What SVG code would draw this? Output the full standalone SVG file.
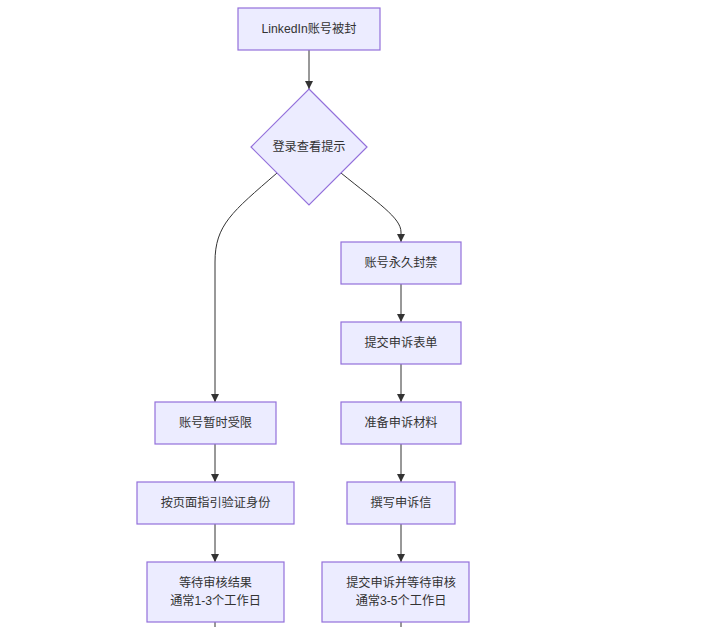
<svg xmlns="http://www.w3.org/2000/svg" width="724" height="627" viewBox="0 0 724 627">
<defs>
<style>
.n{fill:#ECECFF;stroke:#9370DB;stroke-width:1.2}
.t{font-family:"Liberation Sans","Noto Sans CJK SC",sans-serif;font-size:12.2px;fill:#333;text-anchor:middle;dominant-baseline:central}
.e{fill:none;stroke:#333;stroke-width:1}
</style>
<marker id="a" viewBox="0 0 10 10" refX="10" refY="5" markerWidth="8" markerHeight="8" markerUnits="userSpaceOnUse" orient="auto">
<path d="M0,0 L10,5 L0,10 z" fill="#333"/>
</marker>
</defs>
<rect width="724" height="627" fill="#fff"/>
<g id="edges">
<path class="e" d="M309,50 L309,89" marker-end="url(#a)"/>
<path class="e" d="M277,173 C232,212 215,225 215,262 L215,402" marker-end="url(#a)"/>
<path class="e" d="M341,173 C378,203 401,218 401,232 L401,242" marker-end="url(#a)"/>
<path class="e" d="M401,284 L401,322" marker-end="url(#a)"/>
<path class="e" d="M401,364 L401,402" marker-end="url(#a)"/>
<path class="e" d="M401,444 L401,482" marker-end="url(#a)"/>
<path class="e" d="M401,524 L401,562" marker-end="url(#a)"/>
<path class="e" d="M401,622 L401,627"/>
<path class="e" d="M215,444 L215,482" marker-end="url(#a)"/>
<path class="e" d="M215,524 L215,562" marker-end="url(#a)"/>
<path class="e" d="M215,622 L215,627"/>
</g>
<g id="n1"><rect class="n" x="238" y="8" width="142" height="42"/><text class="t" x="309" y="29">LinkedIn账号被封</text></g>
<g id="n2"><polygon class="n" points="309,89 367,147 309,205 251,147"/><text class="t" x="309" y="147">登录查看提示</text></g>
<g id="n3"><rect class="n" x="341" y="242" width="120" height="42"/><text class="t" x="401" y="263">账号永久封禁</text></g>
<g id="n4"><rect class="n" x="341" y="322" width="120" height="42"/><text class="t" x="401" y="343">提交申诉表单</text></g>
<g id="n5"><rect class="n" x="341" y="402" width="120" height="42"/><text class="t" x="401" y="423">准备申诉材料</text></g>
<g id="n6"><rect class="n" x="347" y="482" width="108" height="42"/><text class="t" x="401" y="503">撰写申诉信</text></g>
<g id="n7"><rect class="n" x="322" y="562" width="147" height="60"/><text class="t" x="401" y="583">提交申诉并等待审核</text><text class="t" x="401" y="601">通常3-5个工作日</text></g>
<g id="n8"><rect class="n" x="155" y="402" width="121" height="42"/><text class="t" x="215.5" y="423">账号暂时受限</text></g>
<g id="n9"><rect class="n" x="137" y="482" width="157" height="42"/><text class="t" x="215.5" y="503">按页面指引验证身份</text></g>
<g id="n10"><rect class="n" x="147" y="562" width="137" height="60"/><text class="t" x="215.5" y="583">等待审核结果</text><text class="t" x="215.5" y="601">通常1-3个工作日</text></g>
</svg>
